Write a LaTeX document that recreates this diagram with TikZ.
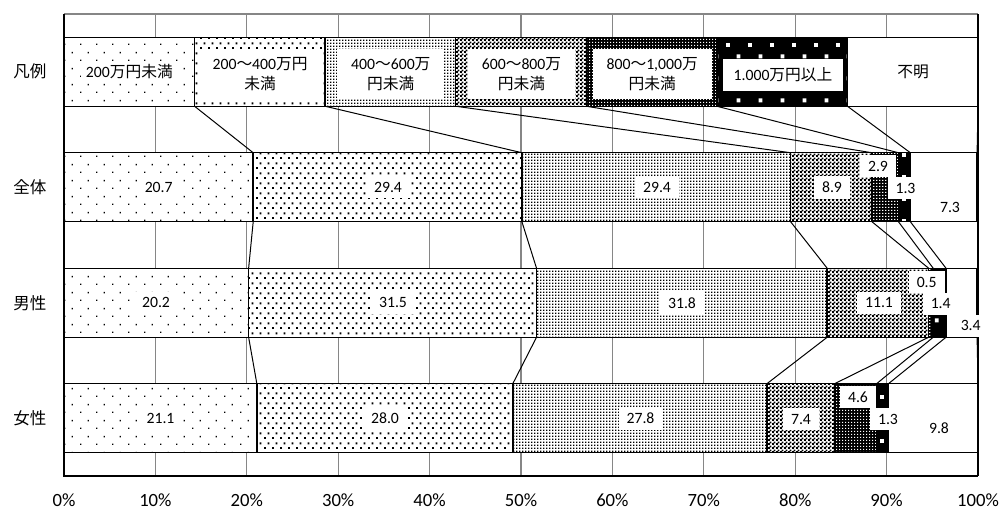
\documentclass[tikz,border=0pt]{standalone}
\usepackage{fontspec}
\setmainfont{Carlito}
\newfontfamily\cjk{Noto Sans CJK JP}
\usetikzlibrary{patterns}

% sparse dots (200万円未満)
\pgfdeclarepatternformonly{pA}{\pgfpointorigin}{\pgfpoint{12pt}{12pt}}{\pgfpoint{12pt}{12pt}}{%
  \pgfpathrectangle{\pgfpoint{0pt}{0pt}}{\pgfpoint{1.1pt}{1.1pt}}%
  \pgfpathrectangle{\pgfpoint{6pt}{6pt}}{\pgfpoint{1.1pt}{1.1pt}}%
  \pgfusepath{fill}}
% larger dots (200～400)
\pgfdeclarepatternformonly{pB}{\pgfpointorigin}{\pgfpoint{6pt}{7.5pt}}{\pgfpoint{6pt}{7.5pt}}{%
  \pgfpathrectangle{\pgfpoint{0pt}{0pt}}{\pgfpoint{1.6pt}{1.6pt}}%
  \pgfpathrectangle{\pgfpoint{3pt}{3.75pt}}{\pgfpoint{1.6pt}{1.6pt}}%
  \pgfusepath{fill}}
% fine dots (400～600)
\pgfdeclarepatternformonly{pC}{\pgfpointorigin}{\pgfpoint{2.25pt}{2.25pt}}{\pgfpoint{2.25pt}{2.25pt}}{%
  \pgfpathrectangle{\pgfpoint{0pt}{0pt}}{\pgfpoint{1.3pt}{1.3pt}}%
  \pgfusepath{fill}}
% checkerboard (600～800)
\pgfdeclarepatternformonly{pD}{\pgfpointorigin}{\pgfpoint{3pt}{3pt}}{\pgfpoint{3pt}{3pt}}{%
  \pgfpathrectangle{\pgfpoint{0pt}{0pt}}{\pgfpoint{1.7pt}{1.7pt}}%
  \pgfpathrectangle{\pgfpoint{1.5pt}{1.5pt}}{\pgfpoint{1.7pt}{1.7pt}}%
  \pgfusepath{fill}}
% small white squares on black (800～1,000)
\pgfdeclarepatternformonly{pE}{\pgfpointorigin}{\pgfpoint{2.5pt}{2.5pt}}{\pgfpoint{2.5pt}{2.5pt}}{%
  \pgfpathrectangle{\pgfpoint{0pt}{0pt}}{\pgfpoint{1.1pt}{1.1pt}}%
  \pgfusepath{fill}}
% large white squares on black (1,000以上)
\pgfdeclarepatternformonly{pF}{\pgfpointorigin}{\pgfpoint{16.5pt}{16.5pt}}{\pgfpoint{16.5pt}{16.5pt}}{%
  \pgfpathrectangle{\pgfpoint{0pt}{0pt}}{\pgfpoint{3pt}{3pt}}%
  \pgfpathrectangle{\pgfpoint{8.25pt}{8.25pt}}{\pgfpoint{3pt}{3pt}}%
  \pgfusepath{fill}}

\definecolor{gridgray}{RGB}{134,134,134}

\tikzset{
  segbase/.style={draw=black, line width=1.1pt},
  seg1/.style={preaction={fill=white}, pattern=pA},
  seg2/.style={preaction={fill=white}, pattern=pB},
  seg3/.style={preaction={fill=white}, pattern=pC},
  seg4/.style={preaction={fill=white}, pattern=pD},
  seg5/.style={preaction={fill=black}, pattern=pE, pattern color=white},
  seg6/.style={preaction={fill=black}, pattern=pF, pattern color=white},
  seg7/.style={fill=white},
  gridline/.style={draw=gridgray, line width=0.8pt},
  frameline/.style={draw=black, line width=1.2pt},
  sline/.style={draw=black, line width=0.75pt},
  dl/.style={fill=white, inner xsep=6pt, inner ysep=4.5pt, font=\fontsize{11.8}{14}\selectfont},
  ll/.style={fill=white, align=center, inner xsep=10.5pt, inner ysep=6.5pt, font=\fontsize{11.8}{15}\selectfont},
  cat/.style={font=\cjk\fontsize{12.4}{15}\selectfont},
  axl/.style={font=\fontsize{14}{16}\selectfont},
}

\newcommand\stackbar[3]{%
  \foreach \a/\b [count=\i] in {#3} {%
    \tikzset{cur/.style/.expanded={seg\i}}%
    \path[segbase, cur] ({64+9.14*\a},#2) rectangle ({64+9.14*\b},{#2+69});
    \coordinate (#1\i t) at ({64+9.14*\b},#2);
    \coordinate (#1\i b) at ({64+9.14*\b},{#2+69});
  }}

\begin{document}
\begin{tikzpicture}[x=0.75pt,y=-0.75pt]
\useasboundingbox[fill=white] (0,0) rectangle (1003,509);

% plot area corners
\coordinate (Ptl) at (64,14);
\coordinate (Ptr) at (978,14);
\coordinate (Pbl) at (64,476);
\coordinate (Pbr) at (978,476);

% vertical gridlines
\foreach \k in {1,...,9} {
  \coordinate (G\k t) at ({64+91.4*\k},14);
  \coordinate (G\k b) at ({64+91.4*\k},476);
  \draw[gridline] (G\k t) -- (G\k b);
}
\draw[gridline] (Ptl) -- (Ptr);

% bars
\stackbar{L}{37.25}{0/14.2857, 14.2857/28.5714, 28.5714/42.8571, 42.8571/57.1429, 57.1429/71.4286, 71.4286/85.7143, 85.7143/100}
\stackbar{A}{152.75}{0/20.7, 20.7/50.1, 50.1/79.5, 79.5/88.4, 88.4/91.3, 91.3/92.6, 92.6/99.9}
\stackbar{M}{268.25}{0/20.2, 20.2/51.7, 51.7/83.5, 83.5/94.6, 94.6/95.1, 95.1/96.5, 96.5/99.9}
\stackbar{F}{383.75}{0/21.1, 21.1/49.1, 49.1/76.9, 76.9/84.3, 84.3/88.9, 88.9/90.2, 90.2/100}

% plot frame (left, bottom, right)
\draw[frameline] (Ptl) -- (Pbl) -- (Pbr);
\draw[frameline, line width=1.6pt] (Pbr) -- (Ptr);

% series lines
\foreach \k in {1,...,7} {
  \draw[sline] (L\k b) -- (A\k t);
  \draw[sline] (A\k b) -- (M\k t);
  \draw[sline] (M\k b) -- (F\k t);
}

% legend labels
\node[ll, inner xsep=4pt, inner ysep=2pt] (l1) at (129.4,72) {200{\cjk 万円未満}};
\node[ll] (l2) at (260.1,74) {200{\cjk ～}400{\cjk 万円}\\{\cjk 未満}};
\node[ll] (l3) at (390.8,74) {400{\cjk ～}600{\cjk 万}\\{\cjk 円未満}};
\node[ll] (l4) at (521.5,74) {600{\cjk ～}800{\cjk 万}\\{\cjk 円未満}};
\node[ll] (l5) at (652.2,74) {800{\cjk ～}1,000{\cjk 万}\\{\cjk 円未満}};
\node[ll, inner xsep=8pt, inner ysep=6.8pt] (l6) at (783,75) {1.000{\cjk 万円以上}};
\node[ll] (l7) at (913,72) {{\cjk 不明}};

% data labels: 全体
\node[dl] (a1) at (158.7,187.25) {20.7};
\node[dl] (a2) at (388,187.25) {29.4};
\node[dl] (a3) at (657,187.25) {29.4};
\node[dl] (a4) at (832,187.25) {8.9};
\node[dl] (a5) at (878,166) {2.9};
\node[dl] (a6) at (905.5,188) {1.3};
\node[dl] (a7) at (950,207) {7.3};
% 男性
\node[dl] (m1) at (156,302.75) {20.2};
\node[dl] (m2) at (393,302.75) {31.5};
\node[dl] (m3) at (682,302.75) {31.8};
\node[dl] (m4) at (879,303) {11.1};
\node[dl] (m5) at (926.7,282) {0.5};
\node[dl] (m6) at (940.7,304) {1.4};
\node[dl] (m7) at (970.7,325.7) {3.4};
% 女性
\node[dl] (f1) at (160.5,418.25) {21.1};
\node[dl] (f2) at (385,418.25) {28.0};
\node[dl] (f3) at (640.5,418.25) {27.8};
\node[dl] (f4) at (801,419.3) {7.4};
\node[dl] (f5) at (858,397) {4.6};
\node[dl] (f6) at (888,419) {1.3};
\node[dl] (f7) at (939,427.7) {9.8};

% category labels
\node[cat] (c0) at (30,71.75) {凡例};
\node[cat] (c1) at (30,187.25) {全体};
\node[cat] (c2) at (30,302.75) {男性};
\node[cat] (c3) at (30,418.25) {女性};

% axis labels
\foreach \k in {0,...,10} {
  \pgfmathtruncatemacro\pc{10*\k}
  \node[axl] (x\k) at ({64+91.4*\k},500) {\pc\%};
}
\end{tikzpicture}
\end{document}
